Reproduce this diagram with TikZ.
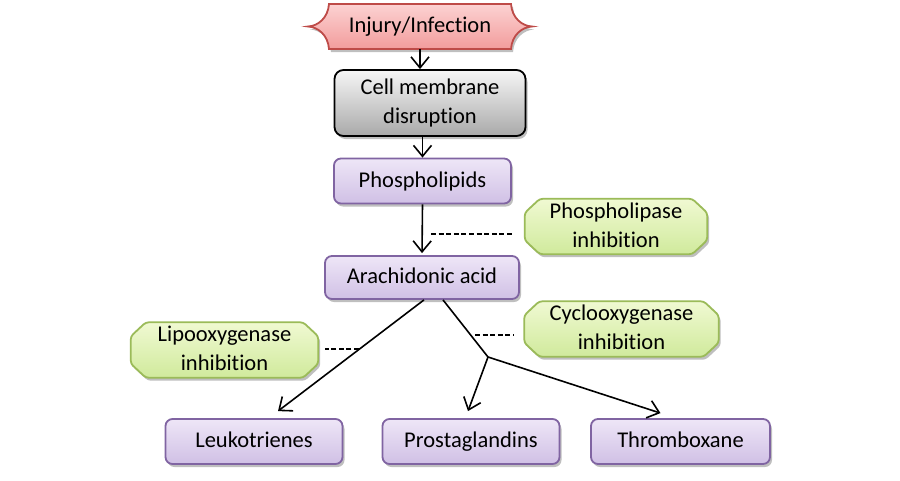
\documentclass[tikz,border=0pt]{standalone}
\usepackage{fontspec}
\setmainfont{Carlito}[Ligatures=NoCommon]
\usetikzlibrary{arrows.meta,shadows,backgrounds}
\definecolor{pinkT}{HTML}{FCD2D2}
\definecolor{pinkB}{HTML}{F29C9C}
\definecolor{pinkD}{HTML}{BE4B48}
\definecolor{grayT}{HTML}{F6F6F6}
\definecolor{grayB}{HTML}{A9A9A9}
\definecolor{purT}{HTML}{EEE6F7}
\definecolor{purB}{HTML}{D0C0E5}
\definecolor{purD}{HTML}{8064A2}
\definecolor{grnT}{HTML}{F0F9D2}
\definecolor{grnB}{HTML}{D0EA9C}
\definecolor{grnD}{HTML}{9BBB59}
\newcommand\st{\rule[-7pt]{0pt}{26pt}}
\tikzset{
  txt/.style={align=center,inner sep=0pt,font=\fontsize{22.5}{29}\selectfont},
  shad/.style={drop shadow={shadow xshift=2pt,shadow yshift=-3pt,opacity=0.25,fill=black}},
  purbox/.style={txt,draw=purD,line width=1.8pt,rounded corners=7pt,top color=purT,bottom color=purB,shad},
  graybox/.style={txt,draw=black,line width=1.8pt,rounded corners=9pt,top color=grayT,bottom color=grayB,shad},
  grnshape/.style={draw=grnD,line width=1.8pt,rounded corners=3pt,top color=grnT,bottom color=grnB,shad},
  pinkshape/.style={draw=pinkD,line width=1.8pt,top color=pinkT,bottom color=pinkB,shad},
  arr/.style={draw=black,line width=1.6pt,-{Straight Barb[length=11pt,width=18pt,line width=1.6pt]}},
  plain/.style={draw=black,line width=1.6pt},
  dashline/.style={draw=black,line width=1.6pt,dash pattern=on 5pt off 2.6pt},
}
\newcommand\grnoct[1]{%
  \path[grnshape] ([xshift=15pt]#1.north west) -- ([xshift=-15pt]#1.north east)
    -- ([yshift=-14pt]#1.north east) -- ([yshift=14pt]#1.south east)
    -- ([xshift=-15pt]#1.south east) -- ([xshift=15pt]#1.south west)
    -- ([yshift=14pt]#1.south west) -- ([yshift=-14pt]#1.north west) -- cycle;}
\begin{document}
\begin{tikzpicture}[x=1pt,y=-1pt]
\useasboundingbox (0,0) rectangle (900,480);

\node[txt,minimum width=224pt,minimum height=45pt] (inj) at (420,26.5) {\st Injury/Infection};

\node[graybox,minimum width=191pt,minimum height=66pt] (cell) at (430,103) {\st Cell membrane\\\st disruption};
\node[purbox,minimum width=177pt,minimum height=45pt] (phos) at (422.5,181) {\st Phospholipids};
\node[purbox,minimum width=194pt,minimum height=43pt] (arach) at (422,277.5) {\st Arachidonic acid};
\node[purbox,minimum width=177pt,minimum height=45pt] (leuk) at (254,441.5) {\st Leukotrienes};
\node[purbox,minimum width=177pt,minimum height=45pt] (prost) at (471,441.5) {\st Prostaglandins};
\node[purbox,minimum width=179pt,minimum height=45pt] (throm) at (680.5,441.5) {\st Thromboxane};

\node[txt,minimum width=182pt,minimum height=47pt] (pl) at (616,226.5) {\st Phospholipase\\\st inhibition};
\node[txt,minimum width=194pt,minimum height=51pt] (cyc) at (621.5,329) {\st Cyclooxygenase\\\st inhibition};
\node[txt,minimum width=187pt,minimum height=53pt] (lipo) at (224.5,350) {\st Lipooxygenase\\\st inhibition};
\begin{scope}[on background layer]
\fill[white] (0,0) rectangle (900,480);
\path[pinkshape] (329,4) -- (511,4) .. controls (512,18) and (522,26) .. (532,26.5)
  .. controls (522,27) and (512,35) .. (511,49) -- (329,49)
  .. controls (328,35) and (318,27) .. (308,26.5)
  .. controls (318,26) and (328,18) .. cycle;
\grnoct{pl}
\grnoct{cyc}
\grnoct{lipo}
\end{scope}

% connectors
\draw[arr] (inj.south) -- (inj.south |- cell.north);
\draw[arr] (phos.north |- cell.south) -- (phos.north);
\draw[arr,shorten >=2pt] (phos.south) -- (arach.north);
\coordinate (d1) at (431,234);
\draw[dashline,shorten >=12pt] (d1) -- (d1 -| pl.west);

\draw[arr] ([xshift=2pt]arach.south) -- ([xshift=24pt,yshift=7pt]leuk.north);
\coordinate (br) at (488,357);
\draw[plain] ([xshift=21pt]arach.south) -- (br);
\draw[arr] (br) -- ([xshift=-3pt,yshift=7pt]prost.north);
\draw[arr] (br) -- ([xshift=-20pt,yshift=5pt]throm.north);

\coordinate (d2) at (475,335);
\draw[dashline,shorten >=10pt] (d2) -- (d2 -| cyc.west);
\coordinate (d3) at (359,349);
\draw[dashline,shorten >=7pt] (d3) -- (d3 -| lipo.east);
\end{tikzpicture}
\end{document}
